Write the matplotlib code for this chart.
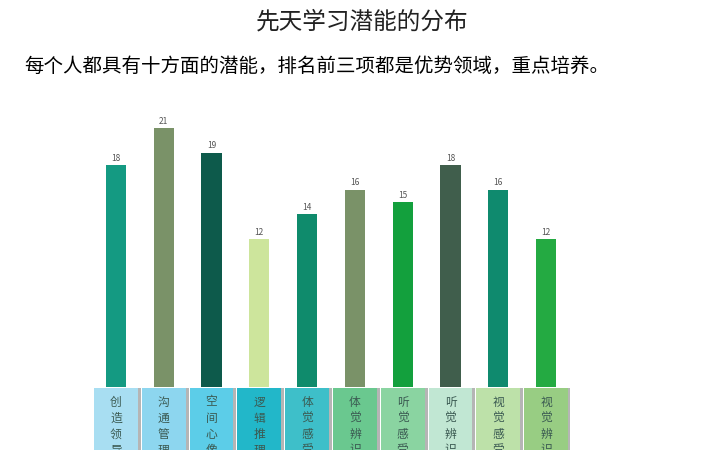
import matplotlib
matplotlib.use("Agg")
import matplotlib.pyplot as plt

plt.rcParams['font.family'] = ['Noto Sans CJK SC', 'DejaVu Sans']

# data
categories = ["创造领导", "沟通管理", "空间心像", "逻辑推理", "体觉感受",
              "体觉辨识", "听觉感受", "听觉辨识", "视觉感受", "视觉辨识"]
values = [18, 21, 19, 12, 14, 16, 15, 18, 16, 12]
bar_colors = ["#149a82", "#7a9268", "#0d5a4b", "#cde59c", "#0f8b6c",
              "#7a9268", "#13a03d", "#405e4c", "#0f8a6e", "#24aa42"]
box_colors = ["#a8def2", "#8dd6ef", "#5ccde8", "#22b7c9", "#3ebfc9",
              "#6ac88f", "#8ad4a1", "#c1e7d3", "#bde1a9", "#98cd83"]

fig = plt.figure(figsize=(7.2, 4.5), dpi=100)
ax = fig.add_axes([92 / 720, 0, 478 / 720, 350 / 450])

x = range(len(values))
bars = ax.bar(x, values, width=0.42, color=bar_colors, zorder=3)
for b, v in zip(bars, values):
    ax.text(b.get_x() + b.get_width() / 2, v + 0.2, str(v),
            ha="center", va="bottom", fontsize=6, color="#555555")

# label boxes under the bars, characters stacked vertically
for i, (lab, c) in enumerate(zip(categories, box_colors)):
    ax.bar(i + 0.06, -8, bottom=-0.1, width=0.92, color="#b5b5b5", zorder=1)
    ax.bar(i, -8, bottom=-0.1, width=0.92, color=c, zorder=2)
    for k, ch in enumerate(lab):
        ax.text(i, -1.22 - 1.3 * k, ch, ha="center", va="center", fontsize=8.5,
                color="#3b5a52", zorder=4)

ax.set_xlim(-0.5, 9.5)
ax.set_ylim(-5.11, 23.28)
ax.axis("off")

fig.text(362 / 720, 1 - 22 / 450, "先天学习潜能的分布", ha="center", va="center",
         fontsize=17, color="#222222")
fig.text(24 / 720, 1 - 66 / 450, "每个人都具有十方面的潜能，排名前三项都是优势领域，重点培养。",
         ha="left", va="center", fontsize=14, color="#000000")

plt.savefig("out.png", dpi=100)
